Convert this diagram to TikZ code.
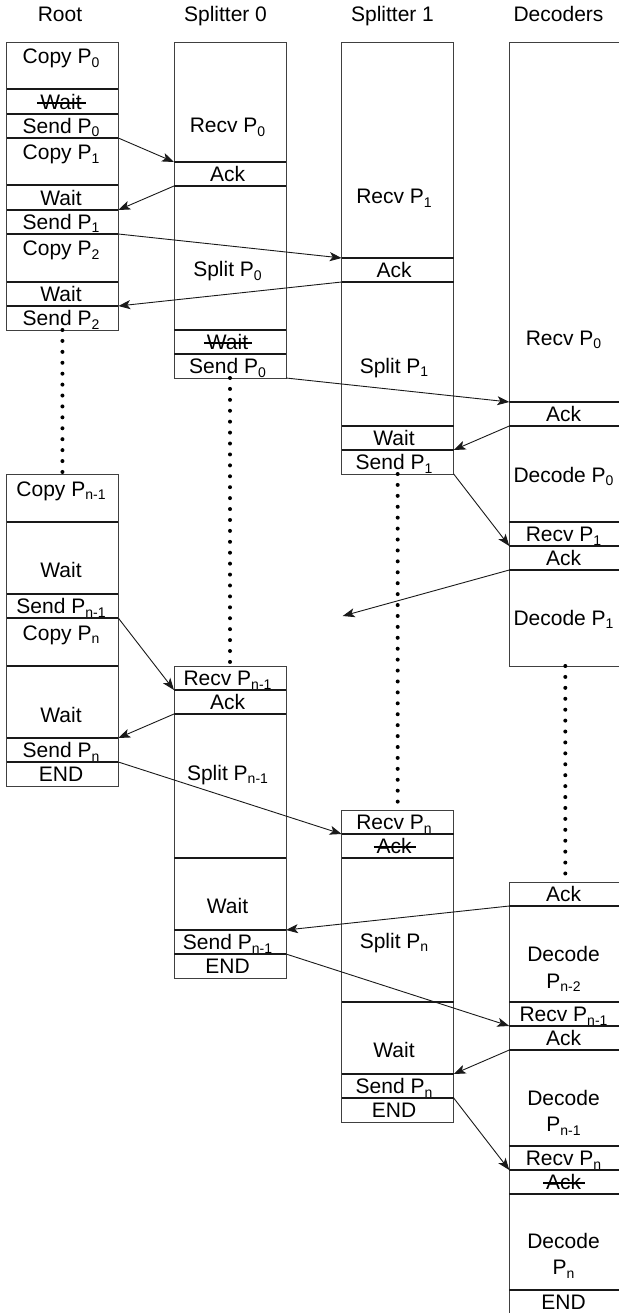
\documentclass[tikz,border=0pt]{standalone}
\usepackage{fontspec}
\setmainfont{Liberation Sans}
\usetikzlibrary{arrows.meta}
\newcommand\sub[1]{\raisebox{-3.5pt}{\fontsize{14}{14}\selectfont #1}}
\newlength\strklen
\newcommand\strk[1]{\settowidth\strklen{#1}\makebox[0pt][l]{\hspace{-3pt}\rule[5.8pt]{\dimexpr\strklen+7pt\relax}{1.6pt}}#1}
% name, xleft, width, xtext, ytop, ybot, ybase (last line), text
\newcommand\cell[8]{%
  \node[cellbox, minimum width=#3pt, minimum height={(#6-#5)*1pt}, anchor=north west] (#1) at (#2,#5) {};
  \node[celltxt] (#1-t) at (#4,#7) {#8};
}
\tikzset{
  cellbox/.style={rectangle, inner sep=0pt, outer sep=0pt},
  celltxt/.style={anchor=base, inner sep=0pt, align=center, font=\fontsize{21}{26.5}\selectfont},
  title/.style={anchor=base, inner sep=0pt, font=\fontsize{21}{26}\selectfont},
  frame/.style={draw=black!75, line width=0.9pt},
  divider/.style={draw=black!90, line width=1.7pt},
  msg/.style={draw=black!90, line width=0.9pt, -{Stealth[length=12pt,width=9pt,inset=3pt]}},
  dots/.style={line width=4pt, line cap=round, dash pattern=on 0pt off 10.92pt},
}
\begin{document}
\begin{tikzpicture}[x=1pt,y=-1pt]
\useasboundingbox (0,0) rectangle (618,1313);
% titles
\node[title] (hroot) at (60,21.7) {Root};
\node[title] (hs0) at (225.5,21.7) {Splitter 0};
\node[title] (hs1) at (392.5,21.7) {Splitter 1};
\node[title] (hdec) at (558.5,21.7) {Decoders};
% Root
\def\L{6.6}\def\W{111.7}\def\T{61}
\cell{r1}{\L}{\W}{\T}{42}{89}{64}{Copy P\sub{0}}
\cell{r2}{\L}{\W}{\T}{89}{114}{109.5}{\strk{Wait}}
\cell{r3}{\L}{\W}{\T}{114}{138}{133.5}{Send P\sub{0}}
\cell{r4}{\L}{\W}{\T}{138}{185}{160}{Copy P\sub{1}}
\cell{r5}{\L}{\W}{\T}{185}{210}{205.5}{Wait}
\cell{r6}{\L}{\W}{\T}{210}{234}{229.5}{Send P\sub{1}}
\cell{r7}{\L}{\W}{\T}{234}{282}{256}{Copy P\sub{2}}
\cell{r8}{\L}{\W}{\T}{282}{306}{301.5}{Wait}
\cell{r9}{\L}{\W}{\T}{306}{330}{325.5}{Send P\sub{2}}
\cell{r10}{\L}{\W}{\T}{474}{522}{496}{Copy P\sub{n-1}}
\cell{r11}{\L}{\W}{\T}{522}{594}{577}{Wait}
\cell{r12}{\L}{\W}{\T}{594}{618}{613.5}{Send P\sub{n-1}}
\cell{r13}{\L}{\W}{\T}{618}{666}{640}{Copy P\sub{n}}
\cell{r14}{\L}{\W}{\T}{666}{738}{722}{Wait}
\cell{r15}{\L}{\W}{\T}{738}{762}{757.5}{Send P\sub{n}}
\cell{r16}{\L}{\W}{\T}{762}{786}{781.5}{END}
% Splitter 0
\def\L{174}\def\W{112}\def\T{227.5}
\cell{s1}{\L}{\W}{\T}{42}{162}{133}{Recv P\sub{0}}
\cell{s2}{\L}{\W}{\T}{162}{186}{181.5}{Ack}
\cell{s3}{\L}{\W}{\T}{186}{330}{277}{Split P\sub{0}}
\cell{s4}{\L}{\W}{\T}{330}{354}{349.5}{\strk{Wait}}
\cell{s5}{\L}{\W}{\T}{354}{378}{373.5}{Send P\sub{0}}
\cell{s6}{\L}{\W}{\T}{666}{690}{685.5}{Recv P\sub{n-1}}
\cell{s7}{\L}{\W}{\T}{690}{714}{709.5}{Ack}
\cell{s8}{\L}{\W}{\T}{714}{858}{780}{Split P\sub{n-1}}
\cell{s9}{\L}{\W}{\T}{858}{930}{913}{Wait}
\cell{s10}{\L}{\W}{\T}{930}{954}{949.5}{Send P\sub{n-1}}
\cell{s11}{\L}{\W}{\T}{954}{978}{973.5}{END}
% Splitter 1
\def\L{341.7}\def\W{112}\def\T{394}
\cell{t1}{\L}{\W}{\T}{42}{258}{204}{Recv P\sub{1}}
\cell{t2}{\L}{\W}{\T}{258}{282}{277.5}{Ack}
\cell{t3}{\L}{\W}{\T}{282}{426}{373}{Split P\sub{1}}
\cell{t4}{\L}{\W}{\T}{426}{450}{445.5}{Wait}
\cell{t5}{\L}{\W}{\T}{450}{474}{469.5}{Send P\sub{1}}
\cell{t6}{\L}{\W}{\T}{810}{834}{829.5}{Recv P\sub{n}}
\cell{t7}{\L}{\W}{\T}{834}{858}{853.5}{\strk{Ack}}
\cell{t8}{\L}{\W}{\T}{858}{1002}{948}{Split P\sub{n}}
\cell{t9}{\L}{\W}{\T}{1002}{1074}{1057}{Wait}
\cell{t10}{\L}{\W}{\T}{1074}{1098}{1093.5}{Send P\sub{n}}
\cell{t11}{\L}{\W}{\T}{1098}{1122}{1117.5}{END}
% Decoders
\def\L{509.3}\def\W{112}\def\T{563.5}
\cell{d1}{\L}{\W}{\T}{42}{402}{345}{Recv P\sub{0}}
\cell{d2}{\L}{\W}{\T}{402}{426}{421.5}{Ack}
\cell{d3}{\L}{\W}{\T}{426}{522}{482}{Decode P\sub{0}}
\cell{d4}{\L}{\W}{\T}{522}{546}{541.5}{Recv P\sub{1}}
\cell{d5}{\L}{\W}{\T}{546}{570}{565.5}{Ack}
\cell{d6}{\L}{\W}{\T}{570}{666}{625}{Decode P\sub{1}}
\cell{d7}{\L}{\W}{\T}{882}{906}{901.5}{Ack}
\cell{d8}{\L}{\W}{\T}{906}{1002}{988}{Decode\\P\sub{n-2}}
\cell{d9}{\L}{\W}{\T}{1002}{1026}{1021.5}{Recv P\sub{n-1}}
\cell{d10}{\L}{\W}{\T}{1026}{1050}{1045.5}{Ack}
\cell{d11}{\L}{\W}{\T}{1050}{1146}{1131.5}{Decode\\P\sub{n-1}}
\cell{d12}{\L}{\W}{\T}{1146}{1170}{1165.5}{Recv P\sub{n}}
\cell{d13}{\L}{\W}{\T}{1170}{1194}{1189.5}{\strk{Ack}}
\cell{d14}{\L}{\W}{\T}{1194}{1290}{1274.5}{Decode\\P\sub{n}}
\cell{d15}{\L}{\W}{\T}{1290}{1314}{1309.5}{END}
% frames
\draw[frame] (r1.north west) rectangle (r9.south east);
\draw[frame] (r10.north west) rectangle (r16.south east);
\draw[frame] (s1.north west) rectangle (s5.south east);
\draw[frame] (s6.north west) rectangle (s11.south east);
\draw[frame] (t1.north west) rectangle (t5.south east);
\draw[frame] (t6.north west) rectangle (t11.south east);
\draw[frame] (d1.north west) rectangle (d6.south east);
\draw[frame] (d7.north west) rectangle (d15.south east);
% dividers
\foreach \c in {r1,r2,r3,r4,r5,r6,r7,r8,r10,r11,r12,r13,r14,r15,
  s1,s2,s3,s4,s6,s7,s8,s9,s10,t1,t2,t3,t4,t6,t7,t8,t9,t10,
  d1,d2,d3,d4,d5,d7,d8,d9,d10,d11,d12,d13,d14}
  {\draw[divider] (\c.south west) -- (\c.south east);}
% dotted continuations
\draw[dots] (r9.south) -- (r10.north);
\draw[dots] (s5.south) -- (s6.north);
\draw[dots] (t5.south) -- (t6.north);
\draw[dots] (d6.south) -- (d7.north);
% messages
\draw[msg] (r3.south east) -- (s1.south west);
\draw[msg] (s2.south west) -- (r5.south east);
\draw[msg] (r6.south east) -- (t1.south west);
\draw[msg] (t2.south west) -- (r8.south east);
\draw[msg] (s5.south east) -- (d1.south west);
\draw[msg] (d2.south west) -- (t4.south east);
\draw[msg] (t5.south east) -- (d4.south west);
\coordinate (lost) at (342.7,616);
\draw[msg] (d5.south west) -- (lost);
\draw[msg] (r12.south east) -- (s6.south west);
\draw[msg] (s7.south west) -- (r14.south east);
\draw[msg] (r16.north east) -- (t6.south west);
\draw[msg] (d7.south west) -- (s9.south east);
\draw[msg] (s10.south east) -- (d9.south west);
\draw[msg] (d10.south west) -- (t9.south east);
\draw[msg] (t10.south east) -- (d12.south west);
\end{tikzpicture}
\end{document}
